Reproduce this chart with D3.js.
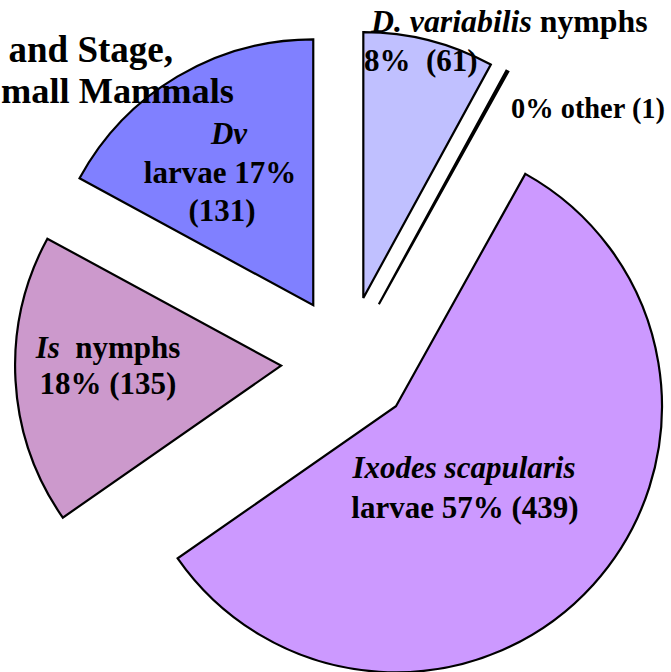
<!DOCTYPE html>
<html>
<head>
<meta charset="utf-8">
<script src="https://cdn.jsdelivr.net/npm/d3@7"></script>
<style>
  html, body { margin: 0; padding: 0; background: #fff; }
  svg { display: block; }
  text { font-family: "Liberation Serif", "Times New Roman", serif; font-weight: bold; fill: #000; white-space: pre; }
</style>
</head>
<body>
<svg id="chart" width="671" height="672"></svg>
<script>
// ---- data ----
const categories = ["D. variabilis nymphs", "other", "Ixodes scapularis larvae", "Is nymphs", "Dv larvae"];
const counts = [61, 1, 439, 135, 131];
const percents = ["8%", "0%", "57%", "18%", "17%"];
const colors = ["#C0C0FF", "#FFFFFF", "#CC99FF", "#CC99CC", "#8080FF"];
const titleLines = ["and Stage,", "mall Mammals"];

// ---- layout ----
const W = 671, H = 672;
const cx = 347, cy = 362, R = 266, explode = 66;

const svg = d3.select("#chart");

const pie = d3.pie().sort(null).value(d => d)
  .startAngle(0).endAngle(2 * Math.PI);
const arcs = pie(counts);
const arc = d3.arc().innerRadius(0).outerRadius(R);

const g = svg.append("g").attr("transform", `translate(${cx},${cy})`);

g.selectAll("path.slice")
  .data(arcs)
  .join("path")
  .attr("class", "slice")
  .attr("transform", a => {
    const mid = (a.startAngle + a.endAngle) / 2;
    return `translate(${explode * Math.sin(mid)},${-explode * Math.cos(mid)})`;
  })
  .attr("d", arc)
  .attr("fill", (a, i) => colors[i])
  .attr("stroke", "#000")
  .attr("stroke-width", 2.2)
  .attr("stroke-linejoin", "miter");

// ---- labels (positions relative to pie center) ----
const FS = 31;
function label(x, y, anchor, parts, fs) {
  const t = g.append("text")
    .attr("text-anchor", anchor)
    .attr("xml:space", "preserve")
    .attr("x", x).attr("y", y)
    .style("font-size", (fs || FS) + "px");
  parts.forEach(p => {
    const ts = t.append("tspan").text(p.t);
    if (p.i) ts.style("font-style", "italic");
  });
  return t;
}

// D. variabilis nymphs
label(371 - cx, 32 - cy, "start", [{t: "D. variabilis", i: true}, {t: " nymphs"}], 31.8);
label(364 - cx, 71 - cy, "start", [{t: percents[0] + "  (" + counts[0] + ")"}]);
// other
label(511 - cx, 118 - cy, "start", [{t: percents[1] + " other (" + counts[1] + ")"}], 28.4);
// Dv larvae
label(229 - cx, 144 - cy, "middle", [{t: "Dv", i: true}]);
label(220 - cx, 183 - cy, "middle", [{t: "larvae " + percents[4]}]);
label(222 - cx, 221 - cy, "middle", [{t: "(" + counts[4] + ")"}]);
// Is nymphs
label(108 - cx, 358 - cy, "middle", [{t: "Is", i: true}, {t: "  nymphs"}]);
label(108 - cx, 394 - cy, "middle", [{t: percents[3] + " (" + counts[3] + ")"}]);
// Is larvae
label(464 - cx, 478 - cy, "middle", [{t: "Ixodes scapularis", i: true}]);
label(465 - cx, 518 - cy, "middle", [{t: "larvae " + percents[2] + " (" + counts[2] + ")"}]);

// ---- title (its visible part, as in the reference) ----
svg.append("text").attr("text-anchor", "end").attr("x", 173).attr("y", 62)
  .style("font-size", "37px").text(titleLines[0]);
svg.append("text").attr("text-anchor", "start").attr("x", 1).attr("y", 103)
  .style("font-size", "36.3px").text(titleLines[1]);
</script>
</body>
</html>
